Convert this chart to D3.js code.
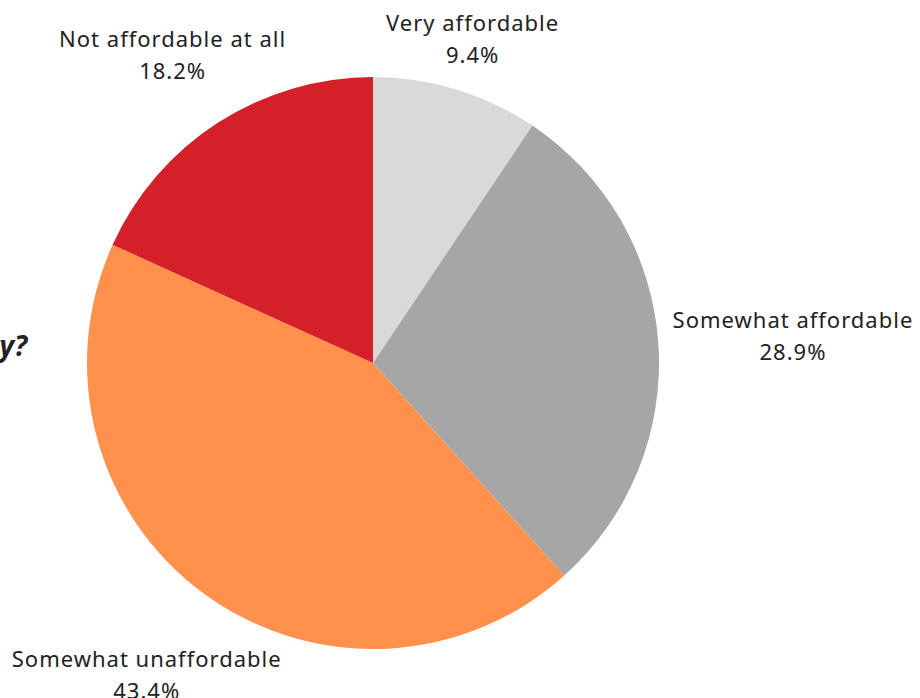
<!DOCTYPE html>
<html>
<head>
<meta charset="utf-8">
<script src="https://cdn.jsdelivr.net/npm/d3@7"></script>
<style>
  body { margin: 0; background: #fff; }
  svg { display: block; }
  .lbl { font-family: "Noto Sans", sans-serif; font-size: 22px; letter-spacing: 1px; fill: #222; }
  .title { font-family: "Open Sans", sans-serif; font-weight: 700; font-style: italic; font-size: 28px; fill: #222; }
</style>
</head>
<body>
<div class="chart"></div>
<script>
"use strict";

// data
var categories = ["Very affordable", "Somewhat affordable", "Somewhat unaffordable", "Not affordable at all"];
var values = [9.4, 28.9, 43.4, 18.2];
var colors = ["#d9d9d9", "#a6a6a6", "#ff914d", "#d42129"];

var width = 920,
    height = 698,
    cx = 373,
    cy = 363,
    radius = 286;

// distance of each label block centre from the pie centre
var labelDist = [342, 421, 383, 370];

var svg = d3.select('.chart').append('svg')
    .attr('width', width)
    .attr('height', height)

// title runs off the left edge, only its end shows
svg.append('text')
    .attr('class', 'title')
    .attr('x', 27)
    .attr('y', 356)
    .attr('text-anchor', 'end')
    .text('How affordable is housing in your community?')

var pie = d3.pie()
    .sort(null)
    .value(function(d) { return d })

var arcs = pie(values)

var arc = d3.arc()
    .innerRadius(0)
    .outerRadius(radius)

var g = svg.append('g')
    .attr('transform', 'translate(' + cx + ',' + cy + ')')

g.selectAll('path')
    .data(arcs)
    .enter().append('path')
    .attr('d', arc)
    .attr('fill', function(d, i) { return colors[i] })

var labels = g.selectAll('text.lbl')
    .data(arcs)
    .enter().append('text')
    .attr('class', 'lbl')
    .attr('text-anchor', 'middle')
    .attr('transform', function(d, i) {
        var a = (d.startAngle + d.endAngle) / 2;
        var r = labelDist[i];
        return 'translate(' + (Math.sin(a) * r) + ',' + (-Math.cos(a) * r) + ')';
    })

labels.append('tspan')
    .attr('x', 0)
    .attr('y', -5)
    .text(function(d, i) { return categories[i] })

labels.append('tspan')
    .attr('x', 0)
    .attr('y', 27)
    .text(function(d) { return d3.format('.1f')(d.data) + '%' })
</script>
</body>
</html>
